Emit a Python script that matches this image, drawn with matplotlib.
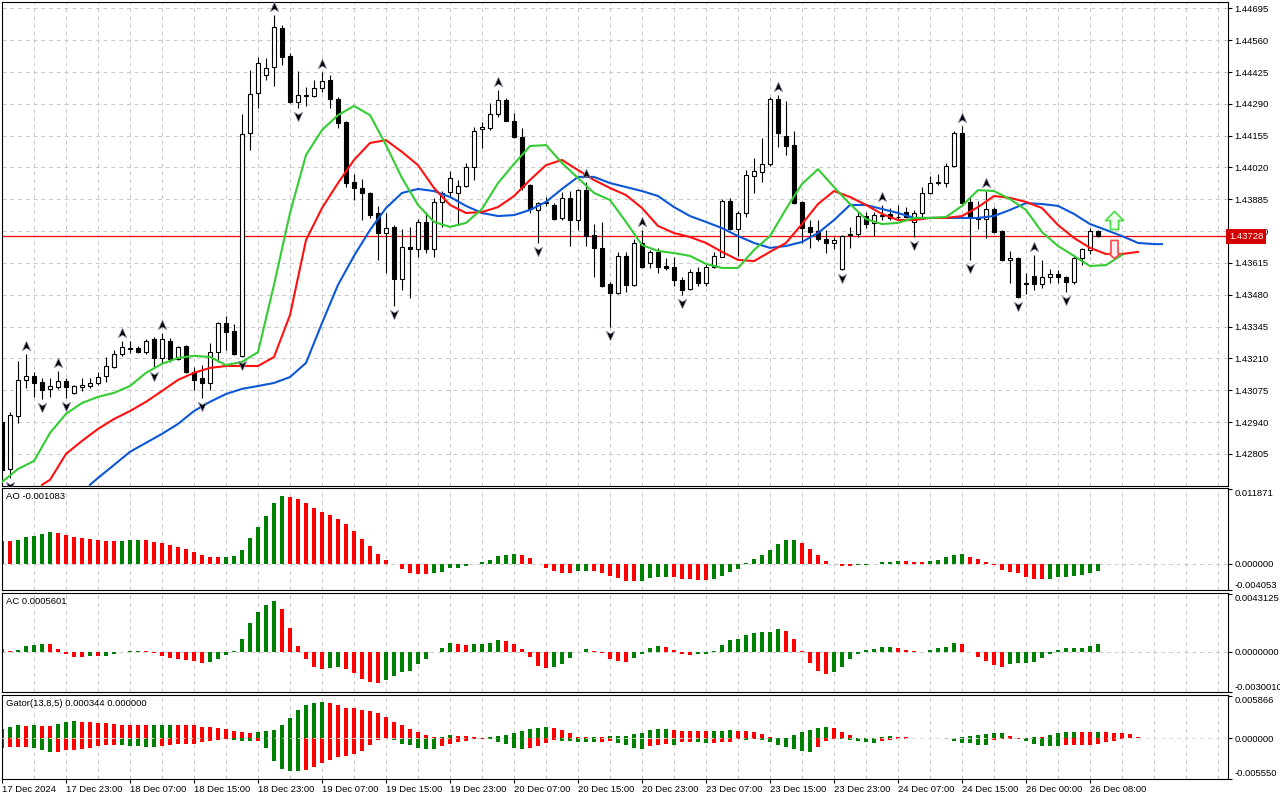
import numpy as np
import matplotlib
matplotlib.use("Agg")
import matplotlib.pyplot as plt
from matplotlib.path import Path
from matplotlib import transforms

plt.rcParams["font.family"] = ["Liberation Sans", "DejaVu Sans"]
FS = 6.8

# ---- H1 candles, 17 Dec 15:00 .. 26 Dec ----
opens = [1.42941, 1.42741, 1.42966, 1.43119, 1.43136, 1.43110, 1.43081, 1.43089, 1.43115, 1.43064,
         1.43089, 1.43093, 1.43106, 1.43136, 1.43174, 1.43229, 1.43254, 1.43254, 1.43237, 1.43293,
         1.43212, 1.43284, 1.43208, 1.43263, 1.43153, 1.43127, 1.43106, 1.43237, 1.43360, 1.43327,
         1.43221, 1.44166, 1.44336, 1.44412, 1.44446, 1.44611, 1.44493, 1.44298, 1.44323, 1.44323,
         1.44357, 1.44391, 1.44310, 1.44213, 1.43958, 1.43933, 1.43912, 1.43827, 1.43742, 1.43768,
         1.43547, 1.43683, 1.43674, 1.43789, 1.43674, 1.43874, 1.43916, 1.43912, 1.43941, 1.44022,
         1.44183, 1.44187, 1.44247, 1.44306, 1.44217, 1.44149, 1.43946, 1.43840, 1.43869, 1.43861,
         1.43806, 1.43891, 1.43797, 1.43924, 1.43734, 1.43679, 1.43526, 1.43488, 1.43645, 1.43522,
         1.43700, 1.43615, 1.43662, 1.43602, 1.43598, 1.43543, 1.43505, 1.43577, 1.43530, 1.43598,
         1.43640, 1.43878, 1.43759, 1.43827, 1.43984, 1.44001, 1.44035, 1.44310, 1.44153, 1.44115,
         1.43874, 1.43768, 1.43751, 1.43717, 1.43700, 1.43589, 1.43734, 1.43738, 1.43814, 1.43785,
         1.43814, 1.43823, 1.43812, 1.43831, 1.43789, 1.43827, 1.43912, 1.43954, 1.43954, 1.44026,
         1.44166, 1.43874, 1.43801, 1.43801, 1.43844, 1.43751, 1.43628, 1.43636, 1.43530, 1.43560,
         1.43526, 1.43556, 1.43568, 1.43556, 1.43534, 1.43636, 1.43670, 1.43751]
highs = [1.42949, 1.42983, 1.43199, 1.43229, 1.43153, 1.43127, 1.43127, 1.43157, 1.43127, 1.43098,
         1.43127, 1.43127, 1.43153, 1.43216, 1.43246, 1.43284, 1.43284, 1.43263, 1.43293, 1.43301,
         1.43318, 1.43297, 1.43263, 1.43267, 1.43174, 1.43182, 1.43276, 1.43365, 1.43390, 1.43356,
         1.44247, 1.44433, 1.44488, 1.44484, 1.44666, 1.44624, 1.44505, 1.44429, 1.44361, 1.44391,
         1.44425, 1.44412, 1.44319, 1.44217, 1.43992, 1.43971, 1.43916, 1.43857, 1.43827, 1.43776,
         1.43759, 1.43768, 1.43801, 1.43831, 1.43891, 1.43920, 1.44005, 1.43967, 1.44039, 1.44192,
         1.44213, 1.44293, 1.44348, 1.44315, 1.44251, 1.44187, 1.43950, 1.43874, 1.43895, 1.43869,
         1.43916, 1.43920, 1.43929, 1.43958, 1.43780, 1.43789, 1.43534, 1.43662, 1.43662, 1.43717,
         1.43755, 1.43670, 1.43679, 1.43636, 1.43640, 1.43556, 1.43589, 1.43598, 1.43615, 1.43662,
         1.43886, 1.43891, 1.43835, 1.44009, 1.44060, 1.44145, 1.44319, 1.44327, 1.44302, 1.44175,
         1.43878, 1.43797, 1.43797, 1.43755, 1.43725, 1.43734, 1.43768, 1.43831, 1.43831, 1.43831,
         1.43861, 1.43848, 1.43861, 1.43852, 1.43840, 1.43937, 1.43984, 1.43992, 1.44039, 1.44175,
         1.44196, 1.43895, 1.43878, 1.43920, 1.43852, 1.43755, 1.43666, 1.43640, 1.43573, 1.43649,
         1.43628, 1.43589, 1.43585, 1.43560, 1.43645, 1.43679, 1.43763, 1.43755]
lows = [1.42703, 1.42703, 1.42937, 1.43085, 1.43047, 1.43038, 1.43047, 1.43081, 1.43043, 1.43059,
        1.43072, 1.43085, 1.43098, 1.43110, 1.43170, 1.43221, 1.43233, 1.43233, 1.43229, 1.43170,
        1.43191, 1.43195, 1.43204, 1.43149, 1.43076, 1.43043, 1.43076, 1.43195, 1.43246, 1.43225,
        1.43216, 1.44094, 1.44272, 1.44391, 1.44365, 1.44454, 1.44293, 1.44272, 1.44281, 1.44319,
        1.44340, 1.44272, 1.44187, 1.43937, 1.43882, 1.43797, 1.43806, 1.43628, 1.43573, 1.43433,
        1.43500, 1.43467, 1.43640, 1.43657, 1.43640, 1.43768, 1.43895, 1.43776, 1.43937, 1.43967,
        1.44103, 1.44179, 1.44234, 1.44217, 1.44145, 1.43924, 1.43827, 1.43700, 1.43857, 1.43797,
        1.43797, 1.43687, 1.43755, 1.43687, 1.43556, 1.43513, 1.43344, 1.43483, 1.43492, 1.43517,
        1.43594, 1.43594, 1.43573, 1.43585, 1.43517, 1.43479, 1.43500, 1.43517, 1.43517, 1.43594,
        1.43640, 1.43755, 1.43645, 1.43810, 1.43912, 1.43958, 1.44026, 1.44107, 1.44073, 1.43865,
        1.43700, 1.43679, 1.43708, 1.43657, 1.43674, 1.43585, 1.43679, 1.43725, 1.43763, 1.43729,
        1.43797, 1.43797, 1.43797, 1.43806, 1.43725, 1.43806, 1.43907, 1.43946, 1.43937, 1.44022,
        1.43865, 1.43628, 1.43759, 1.43721, 1.43742, 1.43623, 1.43530, 1.43467, 1.43483, 1.43500,
        1.43509, 1.43530, 1.43530, 1.43492, 1.43526, 1.43606, 1.43653, 1.43725]
closes = [1.42737, 1.42970, 1.43119, 1.43136, 1.43106, 1.43076, 1.43093, 1.43115, 1.43089, 1.43093,
          1.43098, 1.43106, 1.43131, 1.43178, 1.43229, 1.43259, 1.43250, 1.43237, 1.43284, 1.43212,
          1.43293, 1.43208, 1.43259, 1.43153, 1.43119, 1.43106, 1.43237, 1.43360, 1.43322, 1.43229,
          1.44162, 1.44331, 1.44463, 1.44442, 1.44616, 1.44488, 1.44298, 1.44327, 1.44327, 1.44357,
          1.44387, 1.44310, 1.44209, 1.43954, 1.43933, 1.43912, 1.43818, 1.43742, 1.43763, 1.43547,
          1.43683, 1.43674, 1.43789, 1.43674, 1.43874, 1.43912, 1.43975, 1.43941, 1.44022, 1.44175,
          1.44192, 1.44247, 1.44306, 1.44217, 1.44149, 1.43937, 1.43844, 1.43869, 1.43874, 1.43801,
          1.43891, 1.43797, 1.43924, 1.43729, 1.43679, 1.43517, 1.43488, 1.43645, 1.43522, 1.43700,
          1.43598, 1.43662, 1.43598, 1.43594, 1.43543, 1.43500, 1.43577, 1.43530, 1.43598, 1.43645,
          1.43878, 1.43759, 1.43827, 1.43988, 1.44005, 1.44035, 1.44310, 1.44166, 1.44111, 1.43869,
          1.43763, 1.43746, 1.43717, 1.43700, 1.43712, 1.43729, 1.43738, 1.43814, 1.43780, 1.43818,
          1.43818, 1.43806, 1.43810, 1.43810, 1.43827, 1.43912, 1.43954, 1.43958, 1.44026, 1.44166,
          1.43869, 1.43810, 1.43806, 1.43844, 1.43746, 1.43628, 1.43636, 1.43471, 1.43526, 1.43526,
          1.43556, 1.43568, 1.43556, 1.43534, 1.43636, 1.43674, 1.43751, 1.43728]
last_price = 1.43728

# ---- Alligator (values read at every second bar) ----
lips_bars = list(range(0, 141, 2))
lips = [1.42686, 1.42741, 1.42775, 1.42894, 1.42975, 1.43021, 1.43047, 1.43064, 1.43093, 1.43149,
        1.43187, 1.43212, 1.43221, 1.43216, 1.43182, 1.43195, 1.43237, 1.43522, 1.43827, 1.44073,
        1.44179, 1.44242, 1.44281, 1.44242, 1.44115, 1.43975, 1.43861, 1.43789, 1.43768, 1.43785,
        1.43844, 1.43954, 1.44035, 1.44111, 1.44115, 1.44039, 1.43975, 1.43912, 1.43882, 1.43789,
        1.43691, 1.43666, 1.43657, 1.43645, 1.43611, 1.43594, 1.43594, 1.43670, 1.43729, 1.43844,
        1.43950, 1.44013, 1.43937, 1.43865, 1.43801, 1.43780, 1.43785, 1.43806, 1.43806, 1.43810,
        1.43857, 1.43924, 1.43920, 1.43886, 1.43840, 1.43746, 1.43687, 1.43645, 1.43602, 1.43606,
        1.43649]
teeth_bars = [5] + list(range(6, 143, 2))
teeth = [1.42674,
         1.42695, 1.42805, 1.42860, 1.42911, 1.42953, 1.42987, 1.43026, 1.43072, 1.43119, 1.43149,
         1.43170, 1.43178, 1.43178, 1.43178, 1.43216, 1.43394, 1.43712, 1.43848, 1.43954, 1.44052,
         1.44124, 1.44136, 1.44086, 1.44030, 1.43933, 1.43861, 1.43827, 1.43831, 1.43852, 1.43899,
         1.43967, 1.44030, 1.44052, 1.44009, 1.43967, 1.43933, 1.43903, 1.43848, 1.43772, 1.43742,
         1.43725, 1.43700, 1.43662, 1.43628, 1.43623, 1.43662, 1.43700, 1.43780, 1.43865, 1.43920,
         1.43895, 1.43861, 1.43823, 1.43797, 1.43797, 1.43806, 1.43806, 1.43814, 1.43852, 1.43899,
         1.43891, 1.43874, 1.43848, 1.43776, 1.43721, 1.43679, 1.43653, 1.43653, 1.43662]
jaw_bars = [11] + list(range(12, 145, 2)) + [145]
jaw = [1.42674,
       1.42703, 1.42758, 1.42814, 1.42852, 1.42890, 1.42932, 1.42987, 1.43026, 1.43059, 1.43081,
       1.43093, 1.43106, 1.43131, 1.43191, 1.43360, 1.43522, 1.43645, 1.43755, 1.43848, 1.43912,
       1.43929, 1.43920, 1.43895, 1.43857, 1.43827, 1.43814, 1.43818, 1.43840, 1.43874, 1.43929,
       1.43980, 1.43980, 1.43954, 1.43937, 1.43920, 1.43899, 1.43852, 1.43814, 1.43789, 1.43763,
       1.43729, 1.43700, 1.43679, 1.43687, 1.43704, 1.43742, 1.43797, 1.43861, 1.43861, 1.43844,
       1.43827, 1.43806, 1.43806, 1.43806, 1.43806, 1.43806, 1.43814, 1.43840, 1.43869, 1.43865,
       1.43857, 1.43823, 1.43780, 1.43755, 1.43729, 1.43700, 1.43695,
       1.43695]

fractal_up = [3, 7, 15, 20, 34, 40, 62, 73, 80, 97, 110, 120, 123, 129]
fractal_down = [1, 5, 8, 19, 25, 30, 37, 49, 67, 76, 85, 105, 114, 121, 127, 133]
signal_bar = 139
signal_up_price = 1.43797
signal_down_price = 1.43674

# ---- Oscillators ----
ao = [0.00365, 0.00364, 0.00380, 0.00423, 0.00444, 0.00476, 0.00507, 0.00486, 0.00460, 0.00428,
      0.00412, 0.00401, 0.00380, 0.00370, 0.00365, 0.00370, 0.00380, 0.00381, 0.00378, 0.00349,
      0.00333, 0.00301, 0.00269, 0.00238, 0.00195, 0.00143, 0.00111, 0.00108, 0.00110, 0.00127,
      0.00222, 0.00417, 0.00586, 0.00761, 0.00967, 0.01078, 0.01057, 0.01030, 0.00972, 0.00888,
      0.00824, 0.00777, 0.00713, 0.00634, 0.00528, 0.00396, 0.00285, 0.00159, 0.00063, 0.00005,
      -0.00079, -0.00143, -0.00159, -0.00160, -0.00143, -0.00127, -0.00063, -0.00061, -0.00032, 0.00005,
      0.00032, 0.00063, 0.00127, 0.00143, 0.00159, 0.00143, 0.00095, -0.00005, -0.00063, -0.00111,
      -0.00143, -0.00144, -0.00111, -0.00109, -0.00112, -0.00143, -0.00190, -0.00222, -0.00269, -0.00270,
      -0.00268, -0.00222, -0.00206, -0.00205, -0.00207, -0.00238, -0.00239, -0.00254, -0.00255, -0.00238,
      -0.00190, -0.00127, -0.00079, 0.00008, 0.00079, 0.00143, 0.00222, 0.00317, 0.00380, 0.00385,
      0.00333, 0.00238, 0.00143, 0.00048, -0.00008, -0.00027, -0.00030, -0.00019, -0.00013, -0.00006,
      0.00032, 0.00033, 0.00048, 0.00044, 0.00032, 0.00030, 0.00048, 0.00063, 0.00111, 0.00143,
      0.00159, 0.00111, 0.00079, 0.00032, -0.00016, -0.00095, -0.00127, -0.00143, -0.00206, -0.00238,
      -0.00240, -0.00236, -0.00206, -0.00203, -0.00190, -0.00174, -0.00143, -0.001083]
ac = [0.000200, 0.000074, 0.000126, 0.000421, 0.000495, 0.000569, 0.000562, 0.000200, -0.000148, -0.000392,
      -0.000399, -0.000318, -0.000325, -0.000318, -0.000148, -0.000052, 0.000052, 0.000059, 0.000044, -0.000074,
      -0.000296, -0.000466, -0.000539, -0.000613, -0.000665, -0.000835, -0.000761, -0.000539, -0.000244, 0.000074,
      0.000939, 0.002143, 0.002934, 0.003451, 0.003747, 0.003156, 0.001751, 0.000421, -0.000517, -0.001109,
      -0.001256, -0.001182, -0.001109, -0.001256, -0.001626, -0.002069, -0.002291, -0.002365, -0.002143, -0.001848,
      -0.001552, -0.001404, -0.000887, -0.000517, -0.000052, 0.000296, 0.000665, 0.000569, 0.000495, 0.000591,
      0.000599, 0.000665, 0.000865, 0.000813, 0.000569, 0.000222, -0.000370, -0.001035, -0.001182, -0.001168,
      -0.000887, -0.000443, -0.000037, 0.000200, 0.000074, -0.000074, -0.000517, -0.000665, -0.000739, -0.000443,
      -0.000148, 0.000273, 0.000421, 0.000347, 0.000126, -0.000148, -0.000222, -0.000207, -0.000148, 0.000074,
      0.000495, 0.000865, 0.000939, 0.001234, 0.001382, 0.001456, 0.001463, 0.001678, 0.001530, 0.000939,
      0.000074, -0.000813, -0.001404, -0.001700, -0.001552, -0.001109, -0.000517, -0.000148, 0.000126, 0.000200,
      0.000347, 0.000355, 0.000273, 0.000126, 0.000022, -0.000015, 0.000126, 0.000273, 0.000347, 0.000643,
      0.000569, -0.000052, -0.000370, -0.000665, -0.000961, -0.001109, -0.000887, -0.000879, -0.000813, -0.000739,
      -0.000443, -0.000148, 0.000126, 0.000273, 0.000281, 0.000288, 0.000421, 0.0005601]
gator_up = [0.00128, 0.00147, 0.00175, 0.00173, 0.00175, 0.00173, 0.00172, 0.00193, 0.00216, 0.00238,
            0.00220, 0.00219, 0.00206, 0.00205, 0.00193, 0.00183, 0.00182, 0.00180, 0.00179, 0.00183,
            0.00184, 0.00186, 0.00183, 0.00182, 0.00175, 0.00155, 0.00154, 0.00138, 0.00128, 0.00100,
            0.00083, 0.00073, 0.00083, 0.00100, 0.00114, 0.00175, 0.00282, 0.00389, 0.00458, 0.00485,
            0.00499, 0.00485, 0.00458, 0.00417, 0.00415, 0.00389, 0.00375, 0.00348, 0.00293, 0.00224,
            0.00175, 0.00128, 0.00087, 0.00045, 0.00014, 0.00015, 0.00045, 0.00032, 0.00030, 0.00014,
            0.00004, 0.00014, 0.00032, 0.00045, 0.00073, 0.00100, 0.00128, 0.00142, 0.00155, 0.00142,
            0.00114, 0.00073, 0.00018, 0.00014, 0.00015, 0.00013, 0.00032, 0.00033, 0.00034, 0.00059,
            0.00073, 0.00114, 0.00128, 0.00129, 0.00114, 0.00100, 0.00099, 0.00098, 0.00096, 0.00100,
            0.00102, 0.00114, 0.00100, 0.00099, 0.00087, 0.00059, 0.00014, 0.00004, 0.00003, 0.00045,
            0.00087, 0.00114, 0.00142, 0.00155, 0.00142, 0.00087, 0.00045, 0.00004, 0.00003, 0.00007,
            0.00023, 0.00025, 0.00023, 0.00010, 0.00004, 0.00001, 0.00003, 0.00004, 0.00003, 0.00001,
            0.00014, 0.00032, 0.00041, 0.00055, 0.00065, 0.00078, 0.00032, 0.00004, 0.00003, 0.00023,
            0.00023, 0.00041, 0.00065, 0.00087, 0.00088, 0.00087, 0.00085, 0.00087, 0.00087, 0.00073,
            0.00072, 0.00051, 0.00018]
gator_down = [0.00138, 0.00128, 0.00128, 0.00128, 0.00129, 0.00161, 0.00197, 0.00195, 0.00169, 0.00161,
              0.00147, 0.00138, 0.00114, 0.00100, 0.00099, 0.00100, 0.00102, 0.00114, 0.00116, 0.00117,
              0.00114, 0.00100, 0.00087, 0.00085, 0.00078, 0.00059, 0.00045, 0.00028, 0.00014, 0.00021,
              0.00037, 0.00045, 0.00044, 0.00138, 0.00312, 0.00422, 0.00450, 0.00458, 0.00436, 0.00403,
              0.00348, 0.00298, 0.00265, 0.00252, 0.00220, 0.00183, 0.00100, 0.00032, 0.00010, 0.00032,
              0.00083, 0.00100, 0.00142, 0.00143, 0.00144, 0.00114, 0.00087, 0.00055, 0.00045, 0.00014,
              0.00010, 0.00014, 0.00055, 0.00087, 0.00142, 0.00143, 0.00140, 0.00114, 0.00073, 0.00021,
              0.00037, 0.00045, 0.00047, 0.00048, 0.00059, 0.00058, 0.00045, 0.00073, 0.00100, 0.00142,
              0.00155, 0.00114, 0.00100, 0.00087, 0.00088, 0.00059, 0.00058, 0.00059, 0.00073, 0.00072,
              0.00059, 0.00058, 0.00014, 0.00028, 0.00014, 0.00028, 0.00059, 0.00100, 0.00128, 0.00155,
              0.00183, 0.00184, 0.00128, 0.00045, 0.00007, 0.00010, 0.00028, 0.00045, 0.00059, 0.00069,
              0.00045, 0.00032, 0.00014, 0.00007, 0.00004, 0.00004, 0.00004, 0.00003, 0.00007, 0.00045,
              0.00069, 0.00070, 0.00096, 0.00098, 0.00023, 0.00014, 0.00014, 0.00014, 0.00045, 0.00083,
              0.00110, 0.00111, 0.00114, 0.00096, 0.00096, 0.00095, 0.00094, 0.00078, 0.00059, 0.00037,
              0.00010, 0.0, 0.0]

price_ticks = [1.44695, 1.44560, 1.44425, 1.44290, 1.44155, 1.44020, 1.43885, 1.43750,
               1.43615, 1.43480, 1.43345, 1.43210, 1.43075, 1.42940, 1.42805]
date_labels = ["17 Dec 2024", "17 Dec 23:00", "18 Dec 07:00", "18 Dec 15:00", "18 Dec 23:00",
               "19 Dec 07:00", "19 Dec 15:00", "19 Dec 23:00", "20 Dec 07:00", "20 Dec 15:00",
               "20 Dec 23:00", "23 Dec 07:00", "23 Dec 15:00", "23 Dec 23:00", "24 Dec 07:00",
               "24 Dec 15:00", "26 Dec 00:00", "26 Dec 08:00"]

GREEN, RED = "#008000", "#ff0000"
GRID = "#c8c8c8"

W, H = 1280, 800
fig = plt.figure(figsize=(12.8, 8.0), dpi=100)


def px_axes(left, top, right, bottom):
    return fig.add_axes([left / W, 1 - bottom / H, (right - left) / W, (bottom - top) / H])


ax = px_axes(2, 2, 1228, 485.5)
ax_ao = px_axes(2, 488, 1228, 589.5)
ax_ac = px_axes(2, 592.5, 1228, 692)
ax_gt = px_axes(2, 694.5, 1228, 778.5)
panels = [ax, ax_ao, ax_ac, ax_gt]

for a in panels:
    a.set_xlim(0, 153.25)
    for s in a.spines.values():
        s.set_linewidth(0.8)
        s.set_color("black")
    for g in range(0, 154, 4):
        a.axvline(g, color=GRID, lw=0.7, ls=(0, (4, 4)), zorder=0)
    a.tick_params(axis="x", bottom=False, labelbottom=False)
    a.tick_params(axis="y", left=False, labelleft=False, right=True, labelright=True,
                  direction="out", length=3, width=0.8, pad=1.5, labelsize=FS)

# ---- main panel ----
ax.set_ylim(1.42671, 1.44722)
ax.set_yticks(price_ticks)
ax.set_yticklabels([f"{v:.5f}" for v in price_ticks])
for v in price_ticks:
    ax.axhline(v, color=GRID, lw=0.7, ls=(0, (4, 4)), zorder=0)

o, h, l, c = (np.array(v) for v in (opens, highs, lows, closes))
x = np.arange(len(o))
ax.axhline(last_price, color="#ff0000", lw=0.9, zorder=2)
ax.vlines(x, l, h, color="black", lw=0.8, zorder=3)
bull = c >= o
body_h = np.maximum(np.abs(c - o), 0.00002)
ax.bar(x, body_h, bottom=np.minimum(o, c), width=0.55,
       color=np.where(bull, "white", "black"), edgecolor="black", linewidth=0.8, zorder=4)

ax.plot(jaw_bars, jaw, color="#0b57d8", lw=1.5, zorder=5)
ax.plot(teeth_bars, teeth, color="#ff1010", lw=1.5, zorder=6)
ax.plot(lips_bars, lips, color="#33cc33", lw=1.5, zorder=7)

up_path = Path([(0, 1), (0.8, -0.8), (0, -0.3), (-0.8, -0.8), (0, 1)],
               [Path.MOVETO, Path.LINETO, Path.LINETO, Path.LINETO, Path.CLOSEPOLY])
down_path = Path([(0, -1), (0.8, 0.8), (0, 0.3), (-0.8, 0.8), (0, -1)],
                 [Path.MOVETO, Path.LINETO, Path.LINETO, Path.LINETO, Path.CLOSEPOLY])
up_tr = ax.transData + transforms.ScaledTranslation(0, 8 / 100, fig.dpi_scale_trans)
dn_tr = ax.transData + transforms.ScaledTranslation(0, -8 / 100, fig.dpi_scale_trans)
ax.plot(fractal_up, h[fractal_up], ls="none", marker=up_path, ms=7.5, mfc="black",
        mec="#8a8aa8", mew=0.5, transform=up_tr, zorder=8)
ax.plot(fractal_down, l[fractal_down], ls="none", marker=down_path, ms=7.5, mfc="black",
        mec="#8a8aa8", mew=0.5, transform=dn_tr, zorder=8)

sig_up = Path([(-0.45, -1), (0.45, -1), (0.45, 0), (1, 0), (0, 1), (-1, 0), (-0.45, 0), (-0.45, -1)],
              [Path.MOVETO] + [Path.LINETO] * 6 + [Path.CLOSEPOLY])
sig_dn = Path([(-0.39, 1), (0.39, 1), (0.39, -0.45), (0.67, -0.45), (0, -1), (-0.67, -0.45),
               (-0.39, -0.45), (-0.39, 1)],
              [Path.MOVETO] + [Path.LINETO] * 6 + [Path.CLOSEPOLY])
ax.plot([signal_bar], [signal_up_price], marker=sig_up, ms=13, mfc="#f2fff0", mec="#44dd44",
        mew=1.2, zorder=9)
ax.plot([signal_bar], [signal_down_price], marker=sig_dn, ms=13, mfc="#fff0f0", mec="#ff4444",
        mew=1.2, zorder=9)

ax.text(1.0008, last_price, f"{last_price:.5f}", color="white", fontsize=FS, va="center", ha="left",
        transform=transforms.blended_transform_factory(ax.transAxes, ax.transData),
        bbox=dict(boxstyle="square,pad=0.3", fc="#d40000", ec="none"), zorder=20, clip_on=False)


def osc_colors(vals, first):
    cols = [first]
    for i in range(1, len(vals)):
        cols.append(GREEN if vals[i] > vals[i - 1] else RED)
    return cols


def set_scale(a, lo, hi, ticks, labels):
    a.set_ylim(lo, hi)
    a.set_yticks(ticks)
    labs = a.set_yticklabels(labels)
    labs[0].set_va("top")
    labs[-1].set_va("bottom")


def panel_title(a, text):
    a.annotate(text, xy=(0, 1), xycoords="axes fraction", xytext=(4, -4),
               textcoords="offset pixels", ha="left", va="top", fontsize=FS, zorder=10)


# ---- AO ----
ax_ao.bar(np.arange(len(ao)), ao, width=0.5, color=osc_colors(ao, RED), zorder=2)
ax_ao.axhline(0, color=GRID, lw=0.7, ls=(0, (4, 4)), zorder=1)
set_scale(ax_ao, -0.00396, 0.01205, [0.011871, 0.0, -0.004053],
          ["0.011871", "0.000000", "-0.004053"])
panel_title(ax_ao, f"AO {ao[-1]:.6f}")

# ---- AC ----
ax_ac.bar(np.arange(len(ac)), ac, width=0.5, color=osc_colors(ac, RED), zorder=2)
ax_ac.axhline(0, color=GRID, lw=0.7, ls=(0, (4, 4)), zorder=1)
set_scale(ax_ac, -0.00298, 0.00439, [0.0043125, 0.0, -0.0030010],
          ["0.0043125", "0.0000000", "-0.0030010"])
panel_title(ax_ac, f"AC {ac[-1]:.7f}")

# ---- Gator ----
xg = np.arange(len(gator_up))
ax_gt.bar(xg, gator_up, width=0.5, color=osc_colors(gator_up, GREEN), zorder=2)
ax_gt.bar(xg, -np.array(gator_down), width=0.5, color=osc_colors(gator_down, GREEN), zorder=2)
ax_gt.axhline(0, color="#dcdcdc", lw=0.7, ls=(0, (4, 4)), zorder=3)
set_scale(ax_gt, -0.00554, 0.00601, [0.005866, 0.0, -0.005550],
          ["0.005866", "0.000000", "-0.005550"])
panel_title(ax_gt, "Gator(13,8,5) 0.000344 0.000000")

ax_gt.set_xticks(range(0, 8 * len(date_labels), 8))
ax_gt.set_xticklabels(date_labels)
ax_gt.tick_params(axis="x", bottom=True, labelbottom=True, direction="out", length=3,
                  width=0.8, pad=1.5, labelsize=FS)
for t in ax_gt.get_xticklabels():
    t.set_ha("left")

fig.savefig("out.png", dpi=100, facecolor="white")
